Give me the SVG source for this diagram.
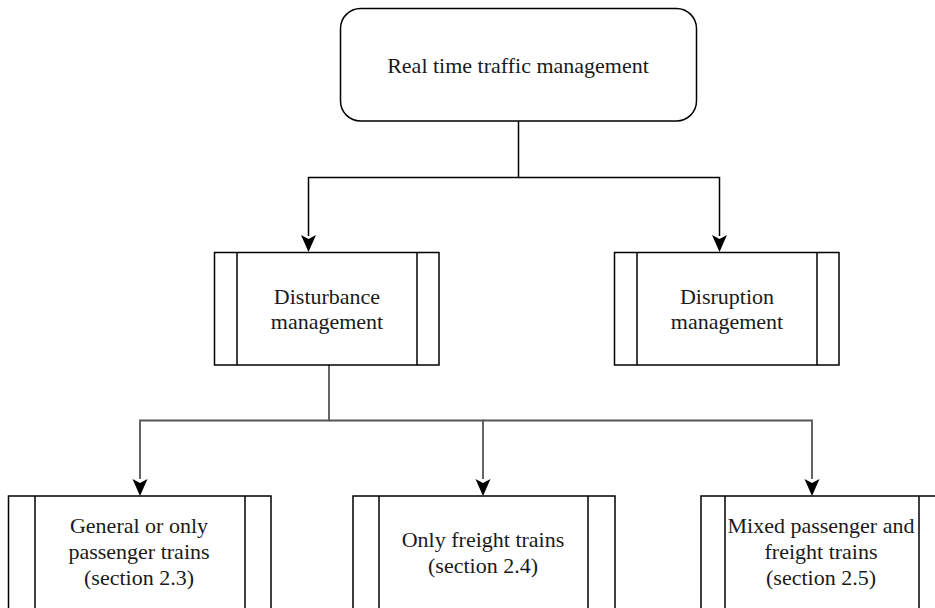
<svg xmlns="http://www.w3.org/2000/svg" width="935" height="608" viewBox="0 0 935 608">
<style>
.box{fill:#fff;stroke:#000;stroke-width:1.5}
.in{stroke:#000;stroke-width:1.5}
.t{font-size:22px;fill:#1a1a1a;text-anchor:middle}
.c{fill:none;stroke:#000;stroke-width:1.5}
.c2{fill:none;stroke:#555;stroke-width:1.8}
</style>
<g id="connectors">
<path class="c" d="M518.5,121 V177.5 H308.5 V236"/>
<path class="c" d="M518.5,177.5 H719.5 V236"/>
<path class="c2" d="M329,365 V420.5 H140 V479"/>
<path class="c2" d="M329,420.5 H483 V479"/>
<path class="c2" d="M483,420.5 H812 V479"/>
<path d="M308.5,252 L301,235 L308.5,239 L316,235 Z" fill="#000"/>
<path d="M719.5,252 L712,235 L719.5,239 L727,235 Z" fill="#000"/>
<path d="M140,496 L132.5,479 L140,483 L147.5,479 Z" fill="#000"/>
<path d="M483,496 L475.5,479 L483,483 L490.5,479 Z" fill="#000"/>
<path d="M812,496 L804.5,479 L812,483 L819.5,479 Z" fill="#000"/>
</g>
<g font-family="Liberation Serif, DejaVu Serif, serif">
<g id="realtime">
<rect class="box" x="340.5" y="8.5" width="356" height="112.5" rx="20" ry="20"/>
<text class="t" x="518" y="73">Real time traffic management</text>
</g>
<g id="disturbance">
<rect class="box" x="214.5" y="252.5" width="224.5" height="112.5"/>
<line class="in" x1="237" y1="252.5" x2="237" y2="365"/>
<line class="in" x1="417" y1="252.5" x2="417" y2="365"/>
<text class="t" x="327" y="304">Disturbance</text>
<text class="t" x="327" y="329">management</text>
</g>
<g id="disruption">
<rect class="box" x="614.5" y="252.5" width="224.5" height="112.5"/>
<line class="in" x1="637" y1="252.5" x2="637" y2="365"/>
<line class="in" x1="817" y1="252.5" x2="817" y2="365"/>
<text class="t" x="727" y="304">Disruption</text>
<text class="t" x="727" y="329">management</text>
</g>
<g id="general">
<rect class="box" x="8.5" y="496" width="262.5" height="130"/>
<line class="in" x1="35" y1="496" x2="35" y2="626"/>
<line class="in" x1="245" y1="496" x2="245" y2="626"/>
<text class="t" x="139" y="533">General or only</text>
<text class="t" x="139" y="559">passenger trains</text>
<text class="t" x="139" y="585">(section 2.3)</text>
</g>
<g id="freight">
<rect class="box" x="353" y="496" width="262" height="130"/>
<line class="in" x1="379" y1="496" x2="379" y2="626"/>
<line class="in" x1="588" y1="496" x2="588" y2="626"/>
<text class="t" x="483" y="547">Only freight trains</text>
<text class="t" x="483" y="573">(section 2.4)</text>
</g>
<g id="mixed">
<rect class="box" x="701" y="496" width="262" height="130"/>
<line class="in" x1="725" y1="496" x2="725" y2="626"/>
<line class="in" x1="919" y1="496" x2="919" y2="626"/>
<text class="t" x="821" y="533">Mixed passenger and</text>
<text class="t" x="821" y="559">freight trains</text>
<text class="t" x="821" y="585">(section 2.5)</text>
</g>
</g>
</svg>
